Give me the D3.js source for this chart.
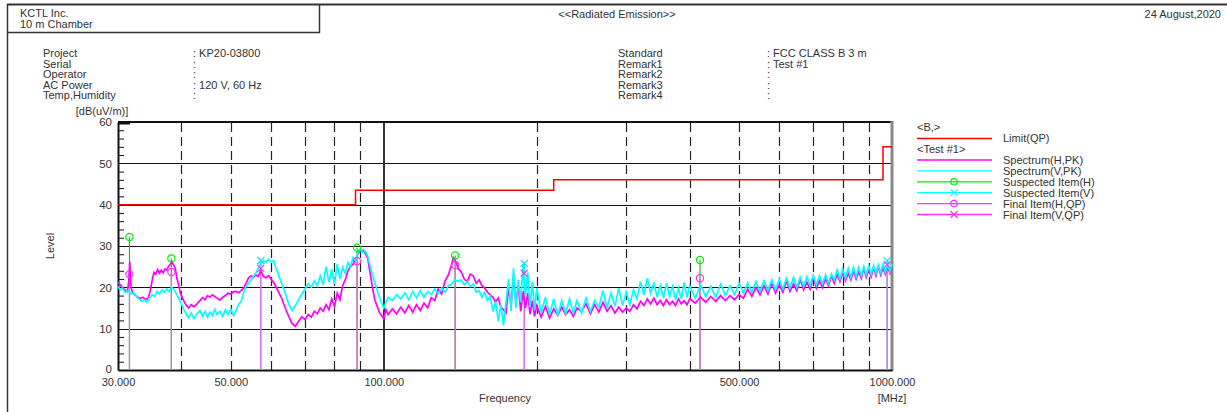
<!DOCTYPE html>
<meta charset="utf-8">
<style>
body {
  margin: 0;
  background: #fff;
}
svg text {
  font-family: "Liberation Sans", Arial, sans-serif;
  font-size: 11px;
  fill: #333;
}
.grid line.major { stroke: #111; stroke-width: 1; }
.grid line.dash { stroke: #222; stroke-width: 1.2; stroke-dasharray: 9,5; }
</style>
<svg id="svg" width="1227" height="412"></svg>
<script src="https://d3js.org/d3.v7.min.js"></script>
<script>

// ---- data (MHz, dB(uV/m)) ----
var limitQP = [[30,40],[88,40],[88,43.5],[216,43.5],[216,46],[960,46],[960,54],[1000,54]];

var specH = [
  [30,21.2],[30.3,20.6],[30.6,20.0],[31,19.3],[31.3,19.0],[31.5,21.5],[31.65,26.2],[31.8,20.5],[32,18.8],[32.4,18.2],
  [32.8,17.6],[33.2,17.3],[33.6,17.6],[34,17.0],[34.4,17.4],[34.7,19.0],[35,21.5],[35.3,23.6],[35.6,23.2],[35.9,24.3],
  [36.2,23.4],[36.5,24.1],[36.8,23.5],[37.1,24.4],[37.4,24.2],[37.7,25.0],[38,25.6],[38.3,26.2],[38.6,25.4],[38.9,24.5],
  [39.2,22.0],[39.5,20.5],[39.8,18.6],[40.3,17.0],[40.8,15.8],[41.3,15.0],[41.8,15.8],[42.3,15.3],[42.9,16.0],[43.5,16.8],
  [44,17.5],[44.5,17.0],[45,18.0],[45.5,17.6],[46,18.2],[46.5,17.8],[47,17.4],[47.6,16.9],[48.2,17.6],[48.8,18.0],
  [49.4,18.6],[50,18.3],[50.6,18.9],[51.2,19.0],[51.8,18.7],[52.4,19.2],[53,19.8],[53.6,21.0],[54.2,22.3],[54.8,22.8],
  [55.4,22.4],[56,23.0],[56.6,22.6],[57.3,24.0],[58,22.6],[58.6,22.3],[59.3,22.8],[60,22.0],[61,20.8],[62,19.0],
  [63,17.3],[64,15.0],[65,13.0],[66,11.2],[67,10.6],[68,11.8],[69,12.9],[70,12.2],[71,13.4],[72,12.8],
  [73,14.2],[74,13.6],[75,15.0],[76,14.2],[77,15.8],[78,14.6],[79,17.2],[80,15.4],[81,18.6],[82,17.0],
  [83,20.4],[84,21.8],[85,24.0],[86,25.0],[87,25.6],[88,26.5],[89,28.2],[90,28.8],[91,29.0],[92,28.2],
  [93,27.0],[94,23.5],[95,20.0],[96,17.0],[97,15.5],[98,14.0],[99,13.2],[100,12.4],[101,14.6],[102,13.4],
  [104,14.8],[106,13.6],[108,15.2],[110,13.8],[112,15.6],[114,14.0],[116,15.8],[118,14.4],[120,16.2],[122,15.0],
  [124,17.5],[126,16.8],[128,19.6],[130,18.4],[132,21.5],[134,23.0],[136,25.5],[137,27.2],[138,26.6],[139,25.8],
  [140,24.5],[142,23.8],[144,22.0],[146,21.4],[148,23.2],[150,22.8],[152,21.0],[154,21.8],[156,20.4],[158,19.8],
  [160,18.8],[162,18.2],[164,17.6],[166,16.4],[168,17.4],[170,15.2],[172,14.6],[174,13.8],[176,20.0],[178,15.6],
  [180,22.5],[182,16.0],[184,20.5],[186,14.2],[188,19.0],[190,15.0],[192,18.6],[194,13.5],[196,16.8],[198,13.0],
  [200,15.6],[204,12.8],[208,15.4],[212,12.6],[216,14.8],[220,13.2],[224,15.2],[228,13.4],[232,14.6],[236,13.0],
  [240,15.0],[245,14.2],[250,16.0],[255,13.6],[260,15.8],[265,14.0],[270,16.4],[275,14.2],[280,15.6],[285,13.8],
  [290,15.2],[295,14.0],[300,15.0],[305,14.2],[310,15.8],[315,14.8],[320,16.6],[325,15.6],[330,17.2],[335,16.0],
  [340,17.4],[345,15.8],[350,16.8],[355,15.6],[360,17.0],[365,15.8],[370,16.6],[375,15.6],[380,17.2],[385,16.0],
  [390,16.8],[395,15.8],[400,17.2],[410,16.2],[420,17.6],[430,16.4],[440,17.8],[450,16.6],[460,18.0],[470,16.8],
  [480,18.0],[490,17.0],[500,18.2],[510,17.4],[520,19.6],[530,17.8],[540,20.0],[550,18.2],[560,20.4],[570,18.4],
  [580,21.0],[590,18.6],[600,20.6],[610,18.8],[620,21.6],[630,19.0],[640,20.8],[650,19.2],[660,22.0],[670,19.4],
  [680,21.2],[690,19.6],[700,22.6],[710,19.8],[720,21.6],[730,20.0],[740,22.2],[750,20.4],[760,22.8],[770,21.0],
  [780,23.2],[790,21.4],[800,23.6],[810,21.6],[820,23.4],[830,21.8],[840,24.0],[850,22.0],[860,23.8],[870,22.2],
  [880,24.6],[890,22.4],[900,24.2],[910,22.6],[920,24.8],[930,22.8],[940,25.2],[950,23.0],[960,24.6],[970,23.2],
  [980,25.0],[990,23.4],[1000,24.8]
];

var specV = [
  [30,20.2],[30.3,19.4],[30.6,19.8],[31,18.8],[31.4,19.2],[31.8,18.4],[32.2,18.8],[32.6,17.8],[33,17.2],[33.4,16.6],
  [33.8,17.0],[34.2,16.4],[34.6,17.4],[35,18.2],[35.4,17.8],[35.8,19.0],[36.2,18.4],[36.6,19.4],[37,18.8],[37.4,19.6],
  [37.8,19.0],[38.2,20.0],[38.6,19.6],[39,18.6],[39.4,17.6],[39.8,16.4],[40.3,15.0],[40.8,13.6],[41.3,12.6],[41.8,13.8],
  [42.3,12.4],[42.9,13.6],[43.5,14.4],[44,13.0],[44.5,14.2],[45,12.8],[45.5,14.0],[46,13.2],[46.5,14.6],[47,13.4],
  [47.6,14.2],[48.2,13.0],[48.8,14.6],[49.4,13.4],[50,14.8],[50.6,13.2],[51.2,14.4],[51.8,15.8],[52.4,16.6],[53,18.6],
  [53.6,20.2],[54.2,21.0],[54.8,21.8],[55.4,22.6],[56,23.4],[56.6,24.6],[57.3,25.8],[58,26.4],[58.6,26.0],[59.3,26.8],
  [60,26.2],[60.7,26.4],[61.4,24.6],[62,23.2],[63,20.8],[64,18.6],[65,16.0],[66,14.4],[67,15.6],[68,17.0],
  [69,18.4],[70,19.6],[71,20.8],[72,20.0],[73,21.6],[74,20.4],[75,22.8],[76,20.6],[77,25.0],[78,21.2],
  [79,24.4],[80,20.8],[81,25.6],[82,22.0],[83,24.8],[84,23.4],[85,26.0],[86,25.0],[87,27.2],[88,26.4],
  [89,28.6],[90,29.2],[91,28.4],[92,28.8],[93,27.6],[94,25.2],[95,23.0],[96,21.2],[97,19.4],[98,17.6],
  [99,16.2],[100,15.0],[101,16.4],[102,17.6],[104,16.8],[106,18.2],[108,17.2],[110,18.6],[112,17.0],[114,19.0],
  [116,17.4],[118,19.2],[120,17.6],[122,19.0],[124,18.2],[126,19.6],[128,18.4],[130,19.8],[132,18.8],[134,20.4],
  [136,20.8],[138,21.8],[140,21.4],[142,21.8],[144,20.6],[146,21.4],[148,20.2],[150,20.8],[152,18.8],[154,19.2],
  [156,17.6],[158,18.8],[160,16.8],[162,17.8],[164,14.2],[166,16.6],[168,11.8],[170,15.8],[172,10.8],[174,16.4],
  [176,22.0],[178,14.2],[180,24.6],[182,15.0],[184,21.8],[186,16.4],[188,25.6],[190,18.0],[192,23.6],[194,15.2],
  [196,21.4],[198,14.6],[200,19.8],[204,13.8],[208,17.6],[212,13.4],[216,17.2],[220,13.2],[224,16.8],[228,13.6],
  [232,17.2],[236,13.8],[240,16.8],[245,13.8],[250,17.4],[255,14.2],[260,16.8],[265,15.2],[270,19.2],[275,15.0],
  [280,18.6],[285,15.4],[290,19.8],[295,15.6],[300,18.8],[305,15.8],[310,19.4],[315,17.2],[320,21.4],[325,18.2],
  [330,22.2],[335,18.6],[340,21.0],[345,17.6],[350,20.4],[355,17.4],[360,21.0],[365,17.8],[370,20.2],[375,17.0],
  [380,19.8],[385,17.2],[390,21.2],[395,17.6],[400,20.4],[410,17.4],[420,20.6],[430,17.8],[440,20.2],[450,17.6],
  [460,20.8],[470,18.0],[480,20.4],[490,18.2],[500,21.0],[510,18.6],[520,21.0],[530,18.8],[540,21.4],[550,19.0],
  [560,21.6],[570,19.2],[580,21.8],[590,19.4],[600,22.0],[610,19.6],[620,22.2],[630,19.8],[640,22.4],[650,20.0],
  [660,22.4],[670,20.2],[680,22.6],[690,20.4],[700,22.8],[710,20.6],[720,22.8],[730,20.8],[740,23.0],[750,21.0],
  [760,23.2],[770,21.8],[780,24.2],[790,22.0],[800,24.4],[810,22.2],[820,24.6],[830,22.4],[840,24.8],[850,22.6],
  [860,24.8],[870,22.8],[880,25.0],[890,23.0],[900,25.2],[910,23.2],[920,25.2],[930,23.4],[940,25.4],[950,23.6],
  [960,25.6],[970,23.6],[980,25.8],[990,23.8],[1000,25.6]
];

var suspH  = [[31.6,32.2],[38.2,27.0],[88.6,29.6],[138.2,27.7],[419,26.6]];
var finalH = [[31.6,23.2],[38.2,23.7],[88.6,26.3],[138.2,25.4],[419,22.2]];
var suspV  = [[57.3,26.5],[189,25.8],[978,26.4]];
var finalV = [[57.3,24.6],[189,23.4],[978,25.5]];

var yTicks = [0,10,20,30,40,50,60];
var yMinor = [2,4,6,8,12,14,16,18,22,24,26,28,32,34,36,38,42,44,46,48,52,54,56,58];
var xLabels = [30,50,100,500,1000];
var xDashed = [40,50,60,70,80,90,200,300,400,500,600,700,800,900];

var infoLeft = [["Project","KP20-03800"],["Serial",""],["Operator",""],["AC Power","120 V, 60 Hz"],["Temp,Humidity",""]];
var infoRight = [["Standard","FCC CLASS B 3 m"],["Remark1","Test #1"],["Remark2",""],["Remark3",""],["Remark4",""]];

var legendRows = [
  {name:"Spectrum(H,PK)", color:"#ff00ff", mark:null},
  {name:"Spectrum(V,PK)", color:"#00ffff", mark:null},
  {name:"Suspected Item(H)", color:"#00ee00", mark:"o"},
  {name:"Suspected Item(V)", color:"#00ffff", mark:"x"},
  {name:"Final Item(H,QP)", color:"#ff33ff", mark:"o"},
  {name:"Final Item(V,QP)", color:"#ff33ff", mark:"x"}
];

// ---- layout ----
var svg = d3.select("svg");
var x = d3.scaleLog().domain([30,1000]).range([118,892]);
var y = d3.scaleLinear().domain([0,60]).range([370,122]);

// page frame
var frame = svg.append("g").attr("stroke","#333").attr("fill","none");
frame.append("line").attr("x1",7).attr("x2",1227).attr("y1",4.5).attr("y2",4.5).attr("stroke-width",2);
frame.append("line").attr("x1",7.5).attr("x2",7.5).attr("y1",4).attr("y2",412).attr("stroke-width",1.5);
frame.append("line").attr("x1",7).attr("x2",320).attr("y1",32.5).attr("y2",32.5).attr("stroke-width",1.5);
frame.append("line").attr("x1",319.5).attr("x2",319.5).attr("y1",4).attr("y2",33).attr("stroke-width",1.5);

svg.append("text").attr("x",20).attr("y",17).text("KCTL Inc.");
svg.append("text").attr("x",20).attr("y",28).text("10 m Chamber");
svg.append("text").attr("x",617).attr("y",18).attr("text-anchor","middle").text("<<Radiated Emission>>");
svg.append("text").attr("x",1221).attr("y",18).attr("text-anchor","end").text("24 August,2020");

function infoBlock(rows, x0, x1) {
  var g = svg.append("g");
  rows.forEach(function(r, i) {
    var yy = 57 + i * 10.6;
    g.append("text").attr("x",x0).attr("y",yy).text(r[0]);
    g.append("text").attr("x",x1).attr("y",yy).text(": " + r[1]);
  });
}
infoBlock(infoLeft, 43, 193);
infoBlock(infoRight, 618, 767);

// grid
var grid = svg.append("g").attr("class","grid");
grid.selectAll("line.major").data(yTicks.filter(function(d){ return d > 0 && d < 60; }))
  .enter().append("line").attr("class","major")
  .attr("x1",118).attr("x2",892).attr("y1",function(d){ return Math.round(y(d)) + 0.5; }).attr("y2",function(d){ return Math.round(y(d)) + 0.5; });
grid.selectAll("line.dash").data(xDashed)
  .enter().append("line").attr("class","dash")
  .attr("x1",function(d){ return Math.round(x(d)) + 0.5; }).attr("x2",function(d){ return Math.round(x(d)) + 0.5; })
  .attr("y1",123).attr("y2",370);
grid.append("line").attr("x1",Math.round(x(100))).attr("x2",Math.round(x(100)))
  .attr("y1",122).attr("y2",370).attr("stroke","#333").attr("stroke-width",2);

// axes frame
svg.append("line").attr("x1",118).attr("x2",892).attr("y1",122).attr("y2",122).attr("stroke","#111").attr("stroke-width",2);
svg.append("line").attr("x1",892).attr("x2",892).attr("y1",121).attr("y2",371).attr("stroke","#888").attr("stroke-width",3);

// y axis with minor ticks
var yAxis = d3.axisRight(y).tickValues(yMinor).tickSize(6).tickFormat("");
var ya = svg.append("g").attr("transform","translate(118,0)").call(yAxis);
ya.select(".domain").remove();
ya.selectAll("line").attr("stroke","#111");
svg.append("line").attr("x1",118).attr("x2",130).attr("y1",123).attr("y2",123).attr("stroke","#111").attr("stroke-width",3);

var yl = svg.append("g").attr("transform","translate(118,0)")
  .call(d3.axisLeft(y).tickValues(yTicks).tickSize(0).tickPadding(6).tickFormat(d3.format("d")));
yl.select(".domain").attr("stroke","#111").attr("stroke-width",2);
yl.selectAll("text").style("font-family","\"Liberation Sans\", Arial, sans-serif").style("font-size","11.5px").attr("fill","#444");
yl.selectAll(".tick").filter(function(d){ return d === 0; }).select("text").attr("dy","0.2em");

var xa = svg.append("g").attr("transform","translate(0,370)")
  .call(d3.axisBottom(x).tickValues(xLabels).tickSize(0).tickPadding(8).tickFormat(d3.format(".3f")));
xa.select(".domain").attr("stroke","#111").attr("stroke-width",2);
xa.selectAll("text").style("font-family","\"Liberation Sans\", Arial, sans-serif").style("font-size","11px").attr("fill","#444");

svg.append("text").attr("x",505).attr("y",402).attr("text-anchor","middle").text("Frequency");
svg.append("text").attr("x",892).attr("y",402).attr("text-anchor","middle").text("[MHz]");
svg.append("text").attr("x",102).attr("y",115).attr("text-anchor","middle").text("[dB(uV/m)]");
svg.append("text").attr("transform","translate(54,246) rotate(-90)").attr("text-anchor","middle").text("Level");

// traces
var line = d3.line().x(function(d){ return x(d[0]); }).y(function(d){ return y(d[1]); });
var plot = svg.append("g");
plot.append("path").datum(limitQP).attr("d",line).attr("fill","none").attr("stroke","#ff0000").attr("stroke-width",1.5);

// stems
function stems(data, color) {
  plot.selectAll(null).data(data).enter().append("line")
    .attr("x1",function(d){ return x(d[0]); }).attr("x2",function(d){ return x(d[0]); })
    .attr("y1",y(0)).attr("y2",function(d){ return y(d[1]); })
    .attr("stroke",color).attr("stroke-width",1.2);
}
stems(suspH, "#22bb22");
stems(suspV, "#00e5e5");
stems(finalH, "#ff55ff");
stems(finalV, "#ff55ff");

plot.append("path").datum(specH).attr("d",line).attr("fill","none").attr("stroke","#ff00ff").attr("stroke-width",1.7);
plot.append("path").datum(specV).attr("d",line).attr("fill","none").attr("stroke","#00ffff").attr("stroke-width",1.7);

function circles(g, data, color) {
  g.selectAll(null).data(data).enter().append("circle")
    .attr("cx",function(d){ return x(d[0]); }).attr("cy",function(d){ return y(d[1]); })
    .attr("r",3.6).attr("fill","none").attr("stroke",color).attr("stroke-width",1.2);
}
function crosses(g, data, color) {
  var s = 3.5;
  g.selectAll(null).data(data).enter().append("path")
    .attr("d",function(d){ var cx = x(d[0]), cy = y(d[1]);
      return "M"+(cx-s)+","+(cy-s)+"L"+(cx+s)+","+(cy+s)+"M"+(cx-s)+","+(cy+s)+"L"+(cx+s)+","+(cy-s); })
    .attr("fill","none").attr("stroke",color).attr("stroke-width",1.2);
}
circles(plot, suspH, "#00ee00");
crosses(plot, suspV, "#00e5ff");
circles(plot, finalH, "#ff33ff");
crosses(plot, finalV, "#ff33ff");

// legend
var lg = svg.append("g");
lg.append("text").attr("x",917).attr("y",131).text("<B,>");
lg.append("line").attr("x1",917).attr("x2",992).attr("y1",138.5).attr("y2",138.5).attr("stroke","#ff0000").attr("stroke-width",1.5);
lg.append("text").attr("x",1003).attr("y",142).text("Limit(QP)");
lg.append("text").attr("x",917).attr("y",153).text("<Test #1>");
legendRows.forEach(function(r, i) {
  var yy = 160 + i * 10.9;
  lg.append("line").attr("x1",917).attr("x2",992).attr("y1",yy).attr("y2",yy).attr("stroke",r.color).attr("stroke-width",1.3);
  if (r.mark === "o") {
    lg.append("circle").attr("cx",954).attr("cy",yy).attr("r",3.2).attr("fill","none").attr("stroke",r.color).attr("stroke-width",1.2);
  } else if (r.mark === "x") {
    lg.append("path").attr("d","M950.5,"+(yy-3.5)+"L957.5,"+(yy+3.5)+"M950.5,"+(yy+3.5)+"L957.5,"+(yy-3.5))
      .attr("stroke",r.color).attr("stroke-width",1.2);
  }
  lg.append("text").attr("x",1003).attr("y",yy + 4).text(r.name);
});

</script>
